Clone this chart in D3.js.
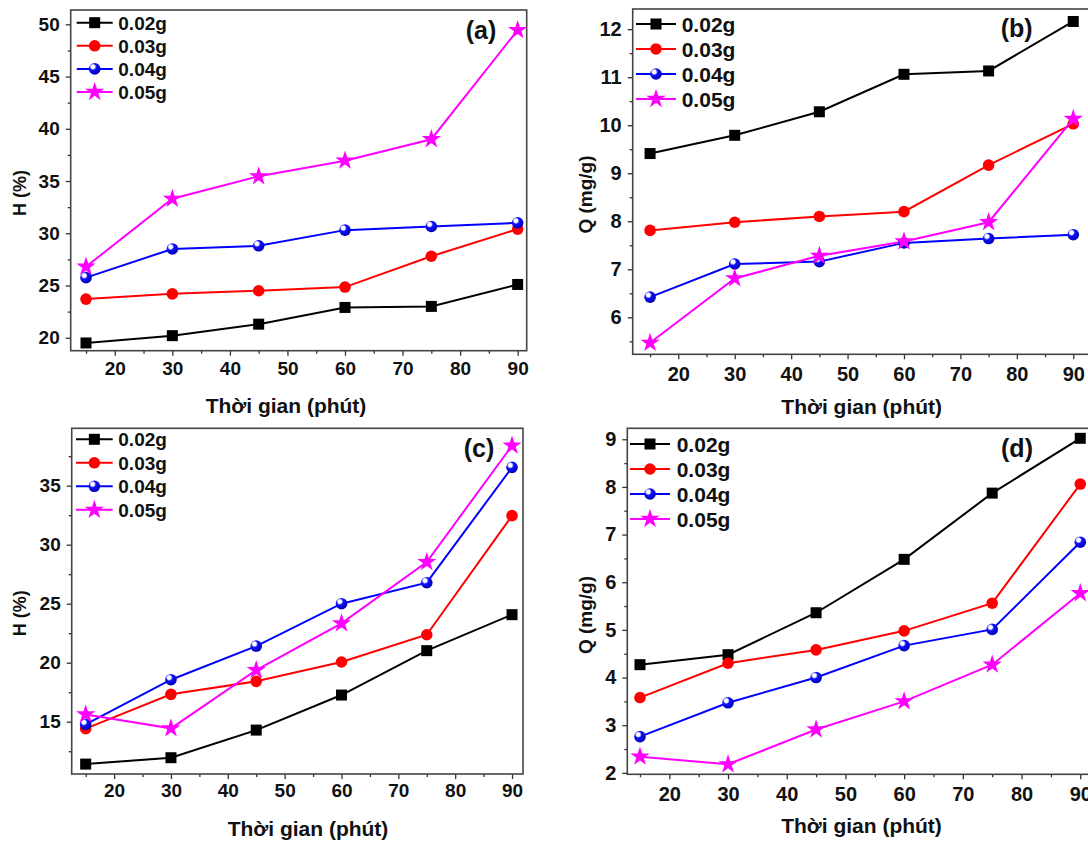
<!DOCTYPE html>
<html>
<head>
<meta charset="utf-8">
<script src="https://cdn.jsdelivr.net/npm/d3@7"></script>
<style>
    body { margin: 0; background: #fff; }
    text { font-family: Arial, "Liberation Sans", sans-serif; font-weight: bold; fill: #111; }
</style>
</head>
<body>
<div id="chart"></div>
<script>
// shared data
var times = [15, 30, 45, 60, 75, 90];
var doses = ["0.02g", "0.03g", "0.04g", "0.05g"];
var xTicks = [20, 30, 40, 50, 60, 70, 80, 90];

// (a) hiệu suất H (%)
var hA = [
    [19.5, 20.2, 21.3, 22.9, 23.0, 25.1],
    [23.7, 24.2, 24.5, 24.85, 27.8, 30.4],
    [25.75, 28.5, 28.8, 30.3, 30.65, 31.0],
    [26.8, 33.3, 35.45, 36.95, 39.0, 49.45]
];
var yTicksA = [20, 25, 30, 35, 40, 45, 50];

// (b) Q (mg/g)
var qB = [
    [9.41, 9.79, 10.28, 11.06, 11.13, 12.16],
    [7.81, 7.98, 8.10, 8.20, 9.17, 10.03],
    [6.42, 7.11, 7.16, 7.55, 7.64, 7.72],
    [5.47, 6.81, 7.28, 7.58, 7.98, 10.13]
];
var yTicksB = [6, 7, 8, 9, 10, 11, 12];

// (c) H (%)
var hC = [
    [11.41, 11.95, 14.29, 17.26, 21.02, 24.07],
    [14.41, 17.32, 18.42, 20.06, 22.37, 32.46],
    [14.77, 18.56, 21.41, 25.0, 26.78, 36.55],
    [15.62, 14.44, 19.38, 23.33, 28.53, 38.39]
];
var yTicksC = [15, 20, 25, 30, 35];

// (d) Q (mg/g)
var qD = [
    [4.27, 4.48, 5.36, 6.48, 7.87, 9.02],
    [3.58, 4.30, 4.58, 4.98, 5.56, 8.06],
    [2.76, 3.47, 4.0, 4.67, 5.01, 6.84],
    [2.34, 2.18, 2.91, 3.5, 4.27, 5.77]
];
var yTicksD = [2, 3, 4, 5, 6, 7, 8, 9];

var colors = ["#000000", "#ff0000", "#0000ff", "#ff00ff"];

var width = 1088, height = 841;

var svg = d3.select("#chart").append("svg")
    .attr("width", width)
    .attr("height", height);

// blue "ball" marker gradient
var grad = svg.append("defs").append("radialGradient")
    .attr("id", "ball")
    .attr("cx", "35%").attr("cy", "32%").attr("r", "70%");
grad.append("stop").attr("offset", "0%").attr("stop-color", "#ffffff");
grad.append("stop").attr("offset", "22%").attr("stop-color", "#ffffff");
grad.append("stop").attr("offset", "42%").attr("stop-color", "#1010ff");
grad.append("stop").attr("offset", "100%").attr("stop-color", "#0000b0");

var panels = [
    {tag: "(a)", data: hA, yTicks: yTicksA, yLabel: "H (%)",
     box: [70.7, 10, 526.7, 350.7], xDom: [12.34, 91.57], yDom: [18.76, 51.37],
     tick: 19, xPad: 6, legend: [76.7, 112.7, 118.3, 22.7, 23.1, 19],
     tagPos: [481, 30], yLab: [20, 193, 18], xLab: [286, 405]},
    {tag: "(b)", data: qB, yTicks: yTicksB, yLabel: "Q (mg/g)",
     box: [632.7, 9, 1093, 354.3], xDom: [11.92, 93.5], yDom: [5.23, 12.42],
     tick: 20, xPad: 8, legend: [636, 676, 681.7, 24, 25, 21],
     tagPos: [1016.7, 28.3], yLab: [585, 194.5, 19], xLab: [861.7, 406]},
    {tag: "(c)", data: hC, yTicks: yTicksC, yLabel: "H (%)",
     box: [71.7, 428.3, 523, 774], xDom: [12.54, 91.93], yDom: [10.57, 39.86],
     tick: 19, xPad: 5, legend: [76, 112.7, 118.3, 439.3, 23.5, 19],
     tagPos: [479, 448.3], yLab: [20, 613.3, 18], xLab: [308, 828]},
    {tag: "(d)", data: qD, yTicks: yTicksD, yLabel: "Q (mg/g)",
     box: [627.3, 428.3, 1100.8, 774.3], xDom: [12.84, 93.5], yDom: [1.97, 9.23],
     tick: 20, xPad: 8, legend: [630, 670, 676.7, 444, 25, 21],
     tagPos: [1017, 448.3], yLab: [585, 615, 19], xLab: [861.5, 825]}
];

function drawMarker(g, k, cx, cy) {
    if (k === 0) {
        g.append("rect")
            .attr("x", cx - 5.5).attr("y", cy - 5.5)
            .attr("width", 11).attr("height", 11)
            .attr("fill", colors[0]);
    } else if (k === 1) {
        g.append("circle").attr("cx", cx).attr("cy", cy).attr("r", 5.8)
            .attr("fill", colors[1]);
    } else if (k === 2) {
        g.append("circle").attr("cx", cx).attr("cy", cy).attr("r", 5.8)
            .attr("fill", "url(#ball)");
    } else {
        g.append("path")
            .attr("d", d3.symbol().type(d3.symbolStar).size(115)())
            .attr("transform", "translate(" + cx + "," + cy + ")")
            .attr("fill", colors[3]);
    }
}

panels.forEach(function (p) {
    var g = svg.append("g");
    var x = d3.scaleLinear().domain(p.xDom).range([p.box[0], p.box[2]]);
    var y = d3.scaleLinear().domain(p.yDom).range([p.box[3], p.box[1]]);

    // minor ticks
    var xMinor = d3.range(15, 95, 10).filter(function (v) { return v > p.xDom[0] && v < p.xDom[1]; });
    var step = p.yTicks[1] - p.yTicks[0];
    var yMinor = d3.range(p.yTicks[0] - step / 2, p.yDom[1], step)
        .filter(function (v) { return v > p.yDom[0] && v < p.yDom[1]; });

    g.append("g")
        .attr("transform", "translate(0," + p.box[3] + ")")
        .call(d3.axisBottom(x).tickValues(xMinor).tickSize(3).tickFormat(""))
        .call(function (a) { a.select(".domain").remove(); });
    g.append("g")
        .attr("transform", "translate(" + p.box[0] + ",0)")
        .call(d3.axisLeft(y).tickValues(yMinor).tickSize(3).tickFormat(""))
        .call(function (a) { a.select(".domain").remove(); });

    var xAxis = g.append("g")
        .attr("transform", "translate(0," + p.box[3] + ")")
        .call(d3.axisBottom(x).tickValues(xTicks).tickSize(5).tickPadding(p.xPad));
    xAxis.select(".domain").remove();
    xAxis.selectAll("text").style("font-size", p.tick + "px");

    var yAxis = g.append("g")
        .attr("transform", "translate(" + p.box[0] + ",0)")
        .call(d3.axisLeft(y).tickValues(p.yTicks).tickSize(5).tickPadding(6));
    yAxis.select(".domain").remove();
    yAxis.selectAll("text").style("font-size", p.tick + "px");

    g.selectAll(".tick line").attr("stroke", "#333").attr("stroke-width", 1.3);

    // frame
    g.append("rect")
        .attr("x", p.box[0]).attr("y", p.box[1])
        .attr("width", p.box[2] - p.box[0]).attr("height", p.box[3] - p.box[1])
        .attr("fill", "none")
        .attr("stroke", "#444")
        .attr("stroke-width", 1.6);

    var line = d3.line()
        .x(function (d, i) { return x(times[i]); })
        .y(function (d) { return y(d); });

    p.data.forEach(function (vals, k) {
        g.append("path")
            .datum(vals)
            .attr("d", line)
            .attr("fill", "none")
            .attr("stroke", colors[k])
            .attr("stroke-width", 2);
    });
    p.data.forEach(function (vals, k) {
        vals.forEach(function (v, i) {
            drawMarker(g, k, x(times[i]), y(v));
        });
    });

    // legend
    var L = p.legend;
    doses.forEach(function (name, k) {
        var ly = L[3] + k * L[4];
        g.append("line")
            .attr("x1", L[0]).attr("x2", L[1])
            .attr("y1", ly).attr("y2", ly)
            .attr("stroke", colors[k]).attr("stroke-width", 2);
        drawMarker(g, k, (L[0] + L[1]) / 2, ly);
        g.append("text")
            .attr("x", L[2]).attr("y", ly)
            .attr("dy", "0.36em")
            .style("font-size", L[5] + "px")
            .text(name);
    });

    g.append("text")
        .attr("x", p.tagPos[0]).attr("y", p.tagPos[1])
        .attr("dy", "0.36em")
        .attr("text-anchor", "middle")
        .style("font-size", "25px")
        .text(p.tag);

    g.append("text")
        .attr("transform", "translate(" + p.yLab[0] + "," + p.yLab[1] + ") rotate(-90)")
        .attr("dy", "0.36em")
        .attr("text-anchor", "middle")
        .style("font-size", p.yLab[2] + "px")
        .text(p.yLabel);

    g.append("text")
        .attr("x", p.xLab[0]).attr("y", p.xLab[1])
        .attr("dy", "0.36em")
        .attr("text-anchor", "middle")
        .style("font-size", "21px")
        .text("Thời gian (phút)");
});
</script>
</body>
</html>
